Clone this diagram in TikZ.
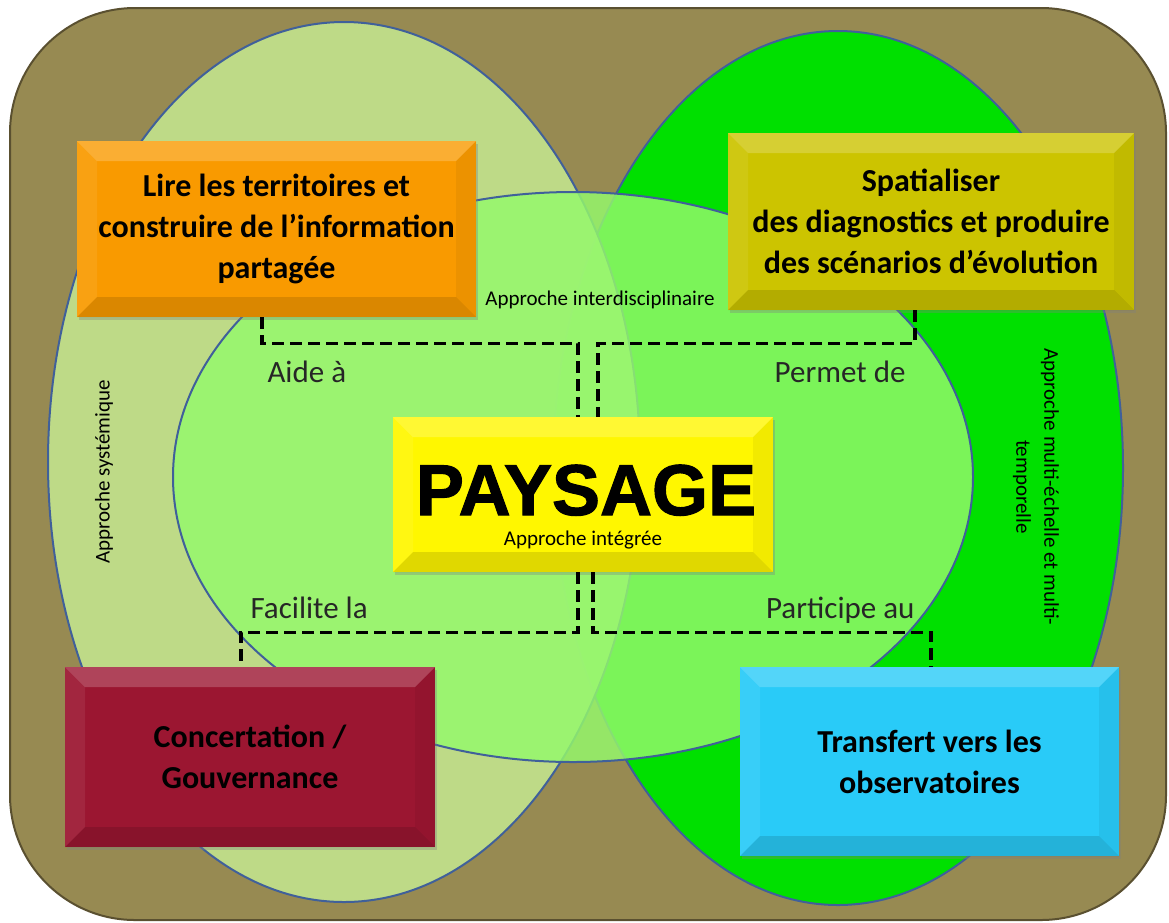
\documentclass[tikz,border=0pt]{standalone}
\usepackage{fontspec}
\setmainfont{Carlito}
\newfontfamily\blackfont[FakeBold=1.5]{Liberation Sans Bold}
\usepackage{tikz}
\usetikzlibrary{calc,shadows}
\definecolor{olivebg}{HTML}{978A52}
\definecolor{olivedark}{HTML}{5A5030}
\definecolor{systgreen}{HTML}{C4E68F}
\definecolor{multigreen}{HTML}{00E000}
\definecolor{integgreen}{HTML}{95F96C}
\definecolor{ringblue}{HTML}{40609A}
\definecolor{lireorange}{HTML}{F99A00}
\definecolor{spatolive}{HTML}{CCC400}
\definecolor{payyellow}{HTML}{FFF700}
\definecolor{concred}{HTML}{9B1631}
\definecolor{transcyan}{HTML}{29CBF8}

\begin{document}
\begin{tikzpicture}[x=1pt,y=-1pt,
    ring/.style={draw=ringblue,line width=2pt},
    bevelbox/.style={fill=#1,inner sep=0pt,align=center,text=black,
      font=\fontsize{32}{41}\selectfont\bfseries,
      drop shadow={shadow xshift=2pt,shadow yshift=-3pt,opacity=.35},
      path picture={
        \coordinate (bnw) at (path picture bounding box.north west);
        \coordinate (bne) at (path picture bounding box.north east);
        \coordinate (bsw) at (path picture bounding box.south west);
        \coordinate (bse) at (path picture bounding box.south east);
        \coordinate (inw) at ([shift={(20pt,-20pt)}]bnw);
        \coordinate (ine) at ([shift={(-20pt,-20pt)}]bne);
        \coordinate (isw) at ([shift={(20pt,20pt)}]bsw);
        \coordinate (ise) at ([shift={(-20pt,20pt)}]bse);
        \fill[white,opacity=.2] (bnw) -- (bne) -- (ine) -- (inw) -- cycle;
        \fill[white,opacity=.07] (bnw) -- (bsw) -- (isw) -- (inw) -- cycle;
        \fill[black,opacity=.05] (bne) -- (bse) -- (ise) -- (ine) -- cycle;
        \fill[black,opacity=.12] (bsw) -- (bse) -- (ise) -- (isw) -- cycle;
      }},
    link/.style={black,line width=3.2pt,dash pattern=on 12pt off 6pt},
    tag/.style={font=\fontsize{31}{36}\selectfont,text=black!85,
      anchor=base west},
    note/.style={font=\fontsize{21}{28}\selectfont,align=center}]
    \useasboundingbox (0,0) rectangle (1169,922);

    \filldraw[fill=olivebg,draw=olivedark,line width=2pt,
      rounded corners=125pt] (10,8) rectangle (1166,920);
    \filldraw[ring,fill=multigreen] (838,468) ellipse [x radius=285,y radius=437];
    \filldraw[ring,fill=systgreen,fill opacity=.88] (344,462)
      ellipse [x radius=296,y radius=440];
    \filldraw[ring,fill=integgreen,fill opacity=.83] (573,477)
      ellipse [x radius=400,y radius=285];

    \node[note,rotate=90] (syst) at (104,472) {Approche systémique};
    \node[note,rotate=-90] (multi) at (1036,487)
      {Approche multi-échelle et multi-\\temporelle};
    \node[note,anchor=base] (interd) at (600,305) {Approche interdisciplinaire};

    \node[bevelbox=lireorange,minimum width=399pt,minimum height=176pt] (lire)
      at (276.5,229) {Lire les territoires et\\construire de l’information\\partagée};
    \node[bevelbox=spatolive,minimum width=406pt,minimum height=177pt] (spat)
      at (931,221.5)
      {Spatialiser\\des diagnostics et produire\\des scénarios d’évolution};
    \node[bevelbox=payyellow,minimum width=380pt,minimum height=155pt] (paysage)
      at (583,494.5) {};
    \node[font=\fontsize{72}{72}\blackfont,anchor=base] (paytitle)
      at (586,515) {PAYSAGE};
    \node[note,anchor=base] (payinteg) at (583,545) {Approche intégrée};
    \node[bevelbox=concred,minimum width=370pt,minimum height=180pt] (concert)
      at (250,757) {Concertation /\\Gouvernance};
    \node[bevelbox=transcyan,minimum width=379pt,minimum height=189pt] (transf)
      at (929.5,761.5) {Transfert vers les\\observatoires};

    \draw[link] ([xshift=-14.5pt]lire.south) -- ++(0,26)
      -| ([xshift=-5pt]paysage.north);
    \draw[link] ([xshift=-16pt]spat.south) -- ++(0,33)
      -| ([xshift=15pt]paysage.north);
    \draw[link] ([xshift=-5pt]paysage.south) -- ++(0,60)
      -| ([xshift=-9pt]concert.north);
    \draw[link] ([xshift=10pt]paysage.south) -- ++(0,60)
      -| ([xshift=1.5pt]transf.north);

    \node[tag] (aide) at (264,382) {Aide à};
    \node[tag,anchor=base east] (permet) at (909,382) {Permet de};
    \node[tag] (facilite) at (247,618) {Facilite la};
    \node[tag,anchor=base east] (particip) at (918,618) {Participe au};
  \end{tikzpicture}
\end{document}
